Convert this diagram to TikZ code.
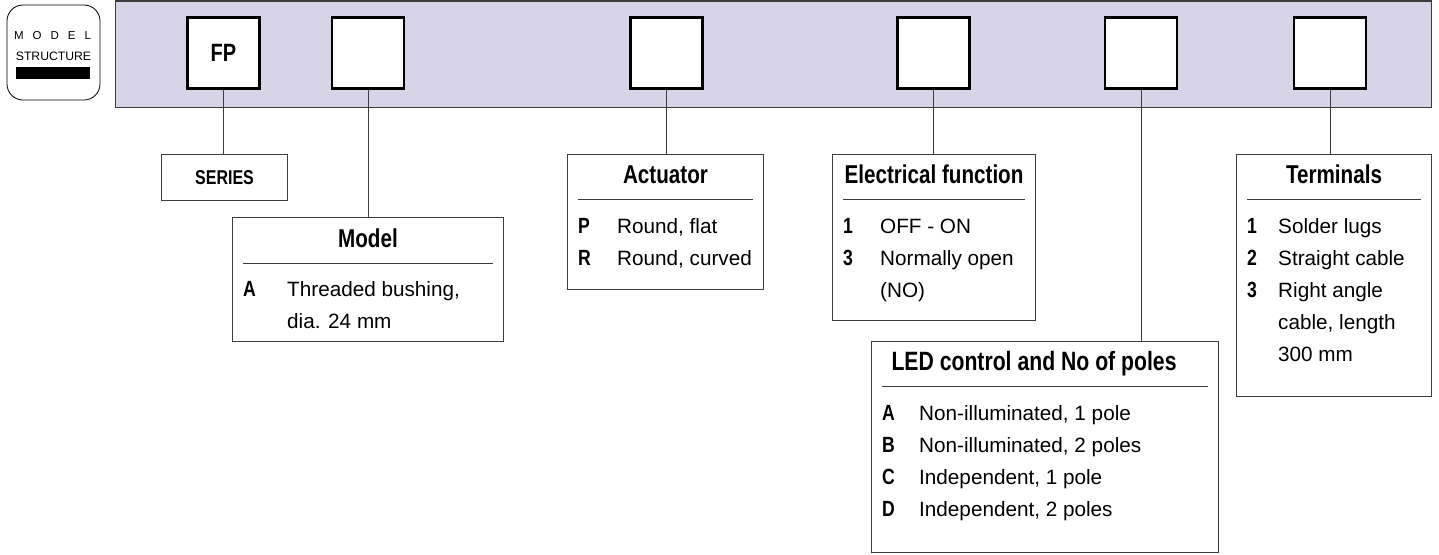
\documentclass[tikz,border=0pt]{standalone}
\usepackage{fontspec}
\usepackage{array}
\setmainfont{Liberation Sans}
\newfontfamily\condfont[FakeStretch=0.8]{Liberation Sans}
\newcommand{\keyfont}{\condfont\bfseries\fontsize{22}{32}\selectfont}
\usetikzlibrary{positioning}
\definecolor{bandfill}{RGB}{216,212,232}
\definecolor{linegray}{RGB}{60,60,60}
\tikzset{%
	% Specifications for style of nodes:
	codebox/.style = {rectangle, draw=black, line width=2.5pt, fill=white,
		minimum width=72pt, minimum height=71pt, inner sep=0pt},
	descbox/.style = {rectangle, draw=linegray, line width=1pt, fill=white,
		anchor=north west, inner sep=0pt},
	boxtitle/.style = {anchor=base, inner sep=0pt,
		font=\condfont\bfseries\fontsize{25.8}{30}\selectfont},
	itemlist/.style = {anchor=base west, inner sep=0pt, align=left,
		font=\fontsize{20.7}{32}\selectfont},
	link/.style = {draw=linegray, line width=1pt},
}
\begin{document}
\begin{tikzpicture}[x=1pt, y=-1pt]
		\useasboundingbox (0,0) rectangle (1439,554);
		
		% Badge on the left
		\node (badge) [rectangle, rounded corners=16pt, draw=black, line width=0.8pt,
			minimum width=93pt, minimum height=95pt, inner sep=0pt] at (53.5,52.5) {};
		\node (badgemodel) [anchor=base, inner sep=0pt, font=\fontsize{11.5}{11.5}\selectfont]
			at (52.5,39) {\makebox[77pt]{M\hfill O\hfill D\hfill E\hfill L}};
		\node (badgestruct) [anchor=base, inner sep=0pt, font=\fontsize{12.2}{12.2}\selectfont]
			at (53.5,60) {STRUCTURE};
		\node (badgebar) [rectangle, fill=black, minimum width=74pt, minimum height=12pt,
			inner sep=0pt] at (53,73) {};
		
		% Band with the code boxes
		\node (band) [rectangle, draw=linegray, fill=bandfill, line width=1pt,
			minimum width=1316pt, minimum height=106pt, anchor=north west, inner sep=0pt]
			at (115,0.5) {};
		
		\node (fp)       [codebox, font=\condfont\bfseries\fontsize{25}{25}\selectfont] at (223.5,53) {FP};
		\node (sqmodel)  [codebox] at (368,53) {};
		\node (sqact)    [codebox] at (666.5,53) {};
		\node (sqelec)   [codebox] at (933.5,53) {};
		\node (sqled)    [codebox] at (1141,53) {};
		\node (sqterm)   [codebox] at (1330,53) {};
		
		% Series
		\node (series) [descbox, minimum width=126pt, minimum height=46pt,
			font=\condfont\bfseries\fontsize{20}{20}\selectfont] at (161,154) {SERIES};
		
		% Model
		\node (modelbox) [descbox, minimum width=271pt, minimum height=124pt] at (232,217) {};
		\node (modeltitle) [boxtitle] at ([yshift=-30pt]modelbox.north) {Model};
		\draw [link] ([xshift=11pt,yshift=-46pt]modelbox.north west) -- ([xshift=-11pt,yshift=-46pt]modelbox.north east);
		\node (modelitems) [itemlist] at ([xshift=11pt,yshift=-79pt]modelbox.north west)
			{\begin{tabular}[t]{@{}>{\keyfont}p{44pt}@{}l@{}}
				A & Threaded bushing,\\
				  & dia. 24 mm
			\end{tabular}};
		
		% Actuator
		\node (actbox) [descbox, minimum width=196pt, minimum height=135pt] at (567,154) {};
		\node (acttitle) [boxtitle] at ([yshift=-29pt]actbox.north) {Actuator};
		\draw [link] ([xshift=11pt,yshift=-45pt]actbox.north west) -- ([xshift=-11pt,yshift=-45pt]actbox.north east);
		\node (actitems) [itemlist] at ([xshift=11pt,yshift=-79pt]actbox.north west)
			{\begin{tabular}[t]{@{}>{\keyfont}p{39pt}@{}l@{}}
				P & Round, flat\\
				R & Round, curved
			\end{tabular}};
		
		% Electrical function
		\node (elecbox) [descbox, minimum width=203pt, minimum height=166pt] at (832,154) {};
		\node (electitle) [boxtitle] at ([yshift=-29pt]elecbox.north) {Electrical function};
		\draw [link] ([xshift=11pt,yshift=-45pt]elecbox.north west) -- ([xshift=-11pt,yshift=-45pt]elecbox.north east);
		\node (elecitems) [itemlist] at ([xshift=11pt,yshift=-79pt]elecbox.north west)
			{\begin{tabular}[t]{@{}>{\keyfont}p{37pt}@{}l@{}}
				1 & OFF - ON\\
				3 & Normally open\\
				  & (NO)
			\end{tabular}};
		
		% LED control
		\node (ledbox) [descbox, minimum width=347pt, minimum height=211pt] at (871,341) {};
		\node (ledtitle) [boxtitle, font=\condfont\bfseries\fontsize{26.5}{30}\selectfont]
			at ([xshift=-11pt,yshift=-29pt]ledbox.north) {LED control and No of poles};
		\draw [link] ([xshift=11pt,yshift=-45pt]ledbox.north west) -- ([xshift=-11pt,yshift=-45pt]ledbox.north east);
		\node (leditems) [itemlist] at ([xshift=11pt,yshift=-79pt]ledbox.north west)
			{\begin{tabular}[t]{@{}>{\keyfont}p{37pt}@{}l@{}}
				A & Non-illuminated, 1 pole\\
				B & Non-illuminated, 2 poles\\
				C & Independent, 1 pole\\
				D & Independent, 2 poles
			\end{tabular}};
		
		% Terminals
		\node (termbox) [descbox, minimum width=195pt, minimum height=242pt] at (1236,154) {};
		\node (termtitle) [boxtitle] at ([yshift=-29pt]termbox.north) {Terminals};
		\draw [link] ([xshift=11pt,yshift=-45pt]termbox.north west) -- ([xshift=-11pt,yshift=-45pt]termbox.north east);
		\node (termitems) [itemlist] at ([xshift=11pt,yshift=-79pt]termbox.north west)
			{\begin{tabular}[t]{@{}>{\keyfont}p{31pt}@{}l@{}}
				1 & Solder lugs\\
				2 & Straight cable\\
				3 & Right angle\\
				  & cable, length\\
				  & 300 mm
			\end{tabular}};
		
		% Connectors
		\draw [link] (fp.south)      -- (fp.south |- series.north);
		\draw [link] (sqmodel.south) -- (sqmodel.south |- modelbox.north);
		\draw [link] (sqact.south)   -- (sqact.south |- actbox.north);
		\draw [link] (sqelec.south)  -- (sqelec.south |- elecbox.north);
		\draw [link] (sqled.south)   -- (sqled.south |- ledbox.north);
		\draw [link] (sqterm.south)  -- (sqterm.south |- termbox.north);
		
\end{tikzpicture}
\end{document}
